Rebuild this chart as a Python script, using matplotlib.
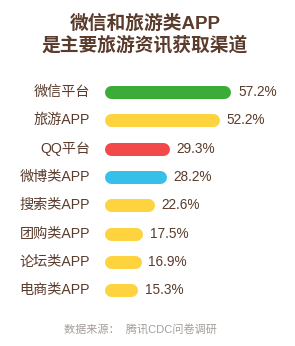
import matplotlib.pyplot as plt

plt.rcParams['font.family'] = ['Liberation Sans', 'Noto Sans CJK SC', 'DejaVu Sans']

categories = ['微信平台', '旅游APP', 'QQ平台', '微博类APP', '搜索类APP', '团购类APP', '论坛类APP', '电商类APP']
values = [57.2, 52.2, 29.3, 28.2, 22.6, 17.5, 16.9, 15.3]
colors = ['#3cac38', '#fdd43f', '#f24a4a', '#36bfe9', '#fdd43f', '#fdd43f', '#fdd43f', '#fdd43f']
title = '微信和旅游类APP\n是主要旅游资讯获取渠道'
source = '数据来源：  腾讯CDC问卷调研'

W, H = 295, 346
text_color = '#5a3b2c'

fig = plt.figure(figsize=(W / 100, H / 100), dpi=100)
fig.patch.set_facecolor('white')

# bar area: x=0 at 104px, 2.22 px per percent; rows 28.3px apart
px_per_unit = 2.22
row_h = 28.3
ax_left, ax_w = 104, 190
ax_top, ax_bottom = 92 - row_h / 2, 92 + row_h * 7.5
ax = fig.add_axes([ax_left / W, (H - ax_bottom) / H, ax_w / W, (ax_bottom - ax_top) / H])
ax.set_xlim(0, ax_w / px_per_unit)
ax.set_ylim(len(values) - 0.5, -0.5)
ax.axis('off')

bar_px = 13
r = (bar_px / 2) / px_per_unit
for i, (cat, v, c) in enumerate(zip(categories, values, colors)):
    ax.plot([r, v - r], [i, i], color=c, lw=bar_px * 0.72, solid_capstyle='round')
    ax.annotate(cat, xy=(0, i), xytext=(-10, 0), textcoords='offset points',
                ha='right', va='center', fontsize=10.2, color=text_color)
    ax.annotate(f'{v:.1f}%', xy=(v, i), xytext=(5, 0), textcoords='offset points',
                ha='left', va='center', fontsize=9.8, color=text_color)

fig.text(145 / W, 1 - 35 / H, title, ha='center', va='center', fontsize=13.5,
         color=text_color, linespacing=1.2, fontweight='bold')
fig.text(140 / W, 1 - 329 / H, source, ha='center', va='center', fontsize=8, color='#a39d99')

fig.savefig('out.png', dpi=100)
